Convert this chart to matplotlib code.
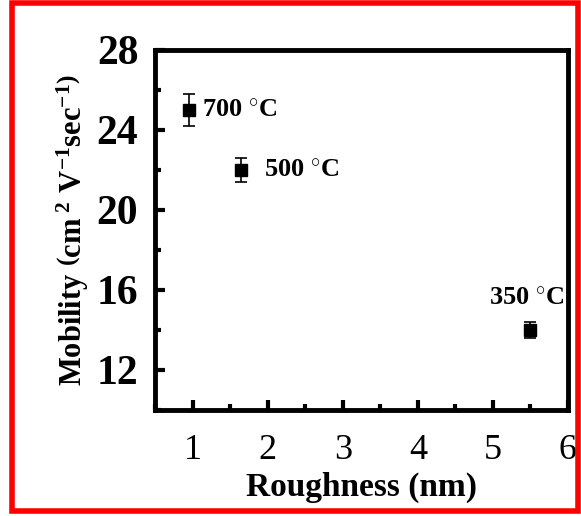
import matplotlib
matplotlib.use("Agg")
import matplotlib.pyplot as plt
from matplotlib.patches import Rectangle
from matplotlib.ticker import MultipleLocator

# values
roughness = [0.95, 1.65, 5.5]
mobility = [25.0, 22.0, 14.0]
mobility_err = [0.8, 0.6, 0.4]
temp_labels = ["700 $^{\\circ}$C", "500 $^{\\circ}$C", "350 $^{\\circ}$C"]
x_ticks = [1, 2, 3, 4, 5, 6]
y_ticks = [12, 16, 20, 24, 28]

plt.rcParams["font.family"] = ["Liberation Serif", "DejaVu Serif"]
plt.rcParams["mathtext.fontset"] = "custom"
plt.rcParams["mathtext.rm"] = "Liberation Serif:bold"
plt.rcParams["mathtext.it"] = "Liberation Serif:bold"
plt.rcParams["mathtext.bf"] = "Liberation Serif:bold"

fig = plt.figure(figsize=(5.81, 5.16), dpi=100)
ax = fig.add_axes([155 / 581, 1 - 410 / 516, 413 / 581, 360 / 516])

ax.errorbar(roughness, mobility, yerr=mobility_err, fmt="s", color="black",
            markersize=8, capsize=4, elinewidth=1.2, capthick=1.2)

# temperature labels next to the points
ax.text(roughness[0] + 0.17, mobility[0], temp_labels[0], fontsize=19,
        fontweight="bold", va="center", ha="left")
ax.text(roughness[1] + 0.3, mobility[1], temp_labels[1], fontsize=19,
        fontweight="bold", va="center", ha="left")
ax.text(roughness[2] - 0.05, mobility[2] + 1.6, temp_labels[2], fontsize=19,
        fontweight="bold", va="center", ha="center")

ax.set_xlim(0.5, 6)
ax.set_ylim(10, 28)
ax.set_xticks(x_ticks)
ax.set_yticks(y_ticks)
ax.xaxis.set_minor_locator(MultipleLocator(0.5))
ax.yaxis.set_minor_locator(MultipleLocator(2))

for s in ax.spines.values():
    s.set_linewidth(3.5)
ax.tick_params(which="both", direction="in", width=3, top=False, right=False)
ax.tick_params(which="major", length=7)
ax.tick_params(which="minor", length=4)
ax.tick_params(axis="x", labelsize=26, pad=17)
ax.tick_params(axis="y", labelsize=30, pad=12)
for lab in ax.get_yticklabels():
    lab.set_fontweight("bold")

ax.set_xlabel("Roughness (nm)", fontsize=24, fontweight="bold", labelpad=4)
ax.set_ylabel(r"Mobility$\ \left(\mathrm{cm}^{\ 2}\ \mathrm{V}^{-1}\mathrm{sec}^{-1}\right)$",
              fontsize=22, fontweight="bold", labelpad=4)

# red frame around the whole figure
fig.patches.append(Rectangle((12 / 581, 5 / 516), 566 / 581, 508 / 516,
                             transform=fig.transFigure, fill=False,
                             edgecolor="red", linewidth=4))

fig.savefig("out.png", dpi=100)
